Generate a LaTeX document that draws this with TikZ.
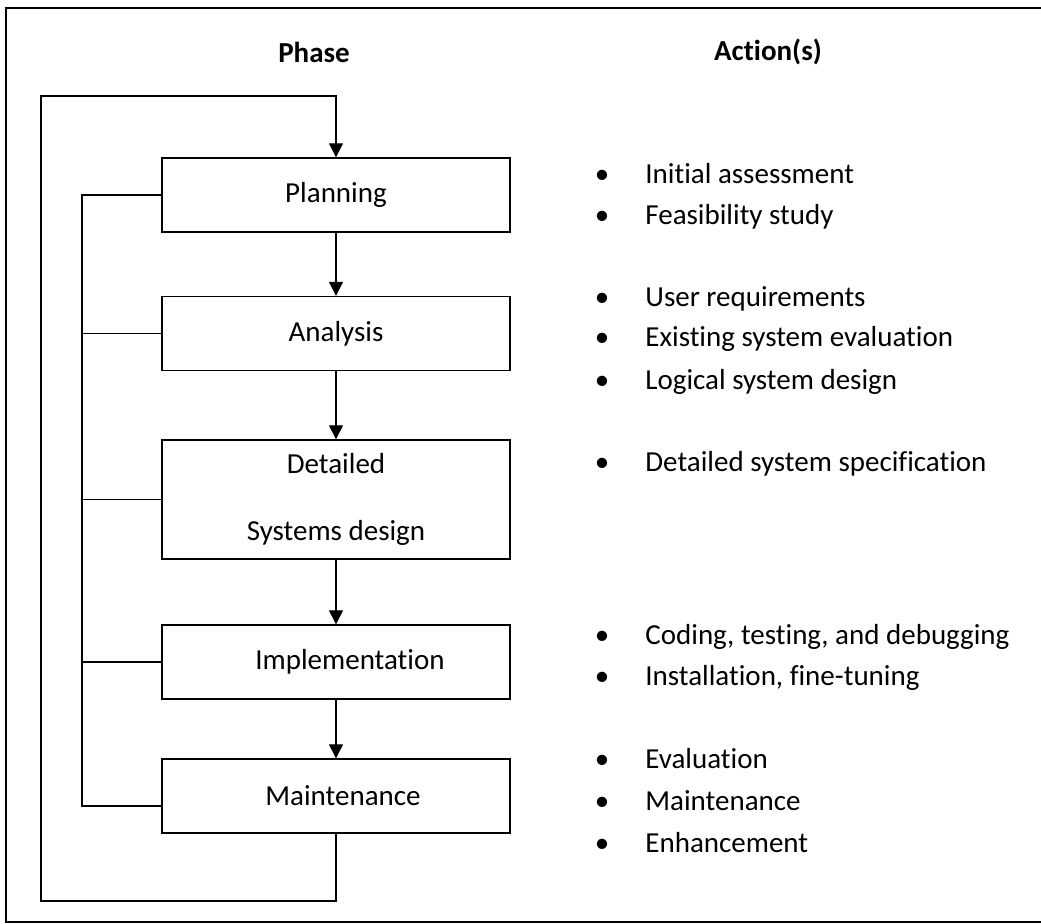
\documentclass[tikz,border=0pt]{standalone}
\usepackage{fontspec}
\setmainfont{Carlito}[Ligatures={NoCommon}]
\usetikzlibrary{arrows.meta}

\begin{document}
\begin{tikzpicture}[x=0.5pt, y=-0.5pt,
    every node/.style={font=\fontsize{14.5pt}{17.4pt}\selectfont},
    phasebox/.style={draw, line width=0.7pt, minimum width=174pt, minimum height=37pt, inner sep=0pt},
    flow/.style={line width=0.7pt, -{Triangle[length=7pt,width=7pt]}},
    link/.style={line width=0.7pt}]
    \useasboundingbox (0,0) rectangle (1041,924);
    % 外框
    \draw[line width=1pt] (1041,8) -- (6,8) -- (6,922) -- (1041,922);
    % 标题
    \node[font=\fontsize{14.5pt}{17.4pt}\selectfont\bfseries] (phase) at (314,52) {Phase};
    \node[font=\fontsize{14.5pt}{17.4pt}\selectfont\bfseries] (action) at (768,52) {Action(s)};
    % 阶段
    \node[phasebox] (plan) at (336,195) {Planning};
    \node[phasebox] (ana) at (336,333.5) {Analysis};
    \node[phasebox, minimum height=59.5pt, align=center] (det) at (336,499.5) {Detailed\\[16pt]Systems design};
    \node[phasebox] (impl) at (336,662) {\hspace*{14pt}Implementation};
    \node[phasebox] (maint) at (336,796) {\hspace*{7pt}Maintenance};
    \draw[flow] (plan) -- (ana);
    \draw[flow] (ana) -- (det);
    \draw[flow] (det) -- (impl);
    \draw[flow] (impl) -- (maint);
    % 外环
    \coordinate (loopbl) at (41,901);
    \coordinate (looptl) at (41,96);
    \draw[flow] (maint.south) |- (loopbl) -- (looptl) -| (plan.north);
    % 内环
    \coordinate (fbtop) at (82,195);
    \coordinate (fbbot) at (82,806);
    \draw[link] (plan.west) -- (fbtop) -- (fbbot) -- (fbbot -| maint.west);
    \draw[link] (ana.west) -- (ana.west -| fbtop);
    \draw[link] (det.west) -- (det.west -| fbtop);
    \draw[link] (impl.west) -- (impl.west -| fbtop);
    % 动作
    \foreach \y/\txt [count=\i] in {177/Initial assessment, 218/Feasibility study,
        300/User requirements, 340/Existing system evaluation, 383/Logical system design,
        465/Detailed system specification,
        638/{Coding, testing, and debugging}, 679/{Installation, fine-tuning},
        762/Evaluation, 804/Maintenance, 846/Enhancement} {
        \node (dot\i) at (602,\y) {\textbullet};
        \node[anchor=base west, inner sep=0pt] (act\i) at (645,\y+7) {\txt};
    }
\end{tikzpicture}
\end{document}
